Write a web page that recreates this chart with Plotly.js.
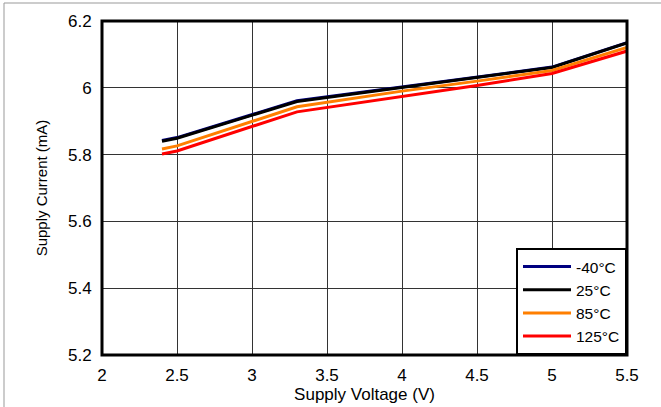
<!DOCTYPE html>
<html>
<head>
<meta charset="utf-8">
<script src="https://cdn.plot.ly/plotly-3.0.1.min.js"></script>
<style>html,body{margin:0;padding:0;background:#fff;}#chart{width:661px;height:407px;}</style>
</head>
<body>
<div id="chart"></div>
<script>
const voltage = [2.4, 2.5, 3.3, 4, 4.5, 5, 5.5];
const seriesNames = ["-40°C", "25°C", "85°C", "125°C"];
const currentM40 = [5.842, 5.851, 5.961, 6.002, 6.032, 6.062, 6.135];
const current25  = [5.840, 5.849, 5.959, 6.001, 6.031, 6.061, 6.134];
const current85  = [5.817, 5.826, 5.943, 5.990, 6.020, 6.052, 6.121];
const current125 = [5.802, 5.811, 5.928, 5.975, 6.007, 6.043, 6.110];
const colors = ["#000080", "#000000", "#FF7F00", "#FF0000"];
const allSeries = [currentM40, current25, current85, current125];

const traces = allSeries.map((ys, i) => ({
  x: voltage, y: ys, type: "scatter", mode: "lines", name: seriesNames[i],
  line: {color: colors[i], width: 3}
}));

const fam = "Liberation Sans, Arial, sans-serif";
const tickFont = {family: fam, size: 17, color: "#000"};
const layout = {
  width: 661, height: 407,
  margin: {l: 102, r: 34, t: 21, b: 52},
  paper_bgcolor: "#fff", plot_bgcolor: "#fff",
  font: {family: fam, size: 17, color: "#000"},
  showlegend: true,
  legend: {x: 1, xanchor: "right", y: 0, yanchor: "bottom", bgcolor: "#fff",
           bordercolor: "#000", borderwidth: 2, font: {family: fam, size: 15.5, color: "#000"},
           tracegroupgap: 0, itemwidth: 48},
  xaxis: {range: [2, 5.5], dtick: 0.5, tick0: 2, showgrid: true, gridcolor: "#333", gridwidth: 1,
          zeroline: false, showline: false, ticks: "outside", ticklen: 5, tickcolor: "rgba(0,0,0,0)",
          tickfont: tickFont,
          title: {text: "Supply Voltage (V)", font: {family: fam, size: 17, color: "#000"}, standoff: 0}},
  yaxis: {range: [5.2, 6.2], dtick: 0.2, tick0: 5.2, showgrid: true, gridcolor: "#333", gridwidth: 1,
          zeroline: false, showline: false, ticks: "outside", ticklen: 6, tickcolor: "rgba(0,0,0,0)",
          tickfont: tickFont,
          title: {text: "Supply Current (mA)", font: {family: fam, size: 15, color: "#000"}, standoff: 16}},
  shapes: [
    {type: "rect", xref: "paper", yref: "paper", x0: 0, x1: 1, y0: 0, y1: 1,
     line: {color: "#000", width: 3}, layer: "above"},
    {type: "rect", xref: "paper", yref: "paper", x0: -98/525, x1: 1.2, y0: -0.2, y1: 1 + 18/334,
     line: {color: "#999", width: 1}, layer: "below"}
  ]
};
Plotly.newPlot("chart", traces, layout, {displayModeBar: false, staticPlot: true});
</script>
</body>
</html>
